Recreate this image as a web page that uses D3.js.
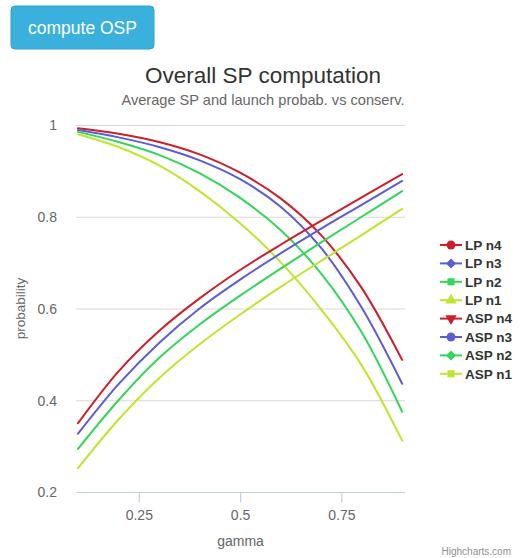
<!DOCTYPE html>
<html>
<head>
<meta charset="utf-8">
<script src="https://cdn.jsdelivr.net/npm/d3@7/dist/d3.min.js"></script>
<style>
  html, body { margin: 0; padding: 0; background: #fff; }
  svg { display: block; font-family: "Liberation Sans", Arial, Helvetica, sans-serif; }
</style>
</head>
<body>
<svg id="chart" width="520" height="558"></svg>
<script>
// ---- data ----
const gamma = [0.1, 0.2, 0.3, 0.4, 0.5, 0.6, 0.7, 0.8, 0.9];
const lpN4  = [0.993, 0.981, 0.963, 0.936, 0.896, 0.840, 0.760, 0.645, 0.488];
const lpN3  = [0.989, 0.973, 0.952, 0.923, 0.882, 0.822, 0.732, 0.602, 0.436];
const lpN2  = [0.985, 0.963, 0.935, 0.895, 0.841, 0.771, 0.676, 0.548, 0.375];
const lpN1  = [0.980, 0.952, 0.912, 0.856, 0.786, 0.701, 0.598, 0.476, 0.312];
const aspN4 = [0.350, 0.463, 0.551, 0.622, 0.684, 0.739, 0.791, 0.842, 0.893];
const aspN3 = [0.327, 0.435, 0.525, 0.600, 0.663, 0.720, 0.774, 0.826, 0.878];
const aspN2 = [0.294, 0.400, 0.492, 0.565, 0.628, 0.687, 0.744, 0.800, 0.856];
const aspN1 = [0.252, 0.358, 0.448, 0.522, 0.587, 0.647, 0.704, 0.760, 0.817];
const seriesNames = ["LP n4", "LP n3", "LP n2", "LP n1", "ASP n4", "ASP n3", "ASP n2", "ASP n1"];
const seriesValues = [lpN4, lpN3, lpN2, lpN1, aspN4, aspN3, aspN2, aspN1];
const yTicks = [0.2, 0.4, 0.6, 0.8, 1];
const xTicks = [0.25, 0.5, 0.75];
const titleText = "Overall SP computation";
const subtitleText = "Average SP and launch probab. vs conserv.";
const buttonText = "compute OSP";

// ---- styles ----
const palette = ["#cc1f2b", "#5c5cd6", "#36d45a", "#bde62e"];
const colorOf = i => palette[i % 4];
const symbolOf = [
  {t: d3.symbolCircle, r: 0},
  {t: d3.symbolSquare, r: 45},
  {t: d3.symbolSquare, r: 0},
  {t: d3.symbolTriangle, r: 0},
  {t: d3.symbolTriangle, r: 180},
  {t: d3.symbolCircle, r: 0},
  {t: d3.symbolSquare, r: 45},
  {t: d3.symbolSquare, r: 0}
];

const svg = d3.select("#chart");
const plot = {left: 76, right: 405, top: 125, bottom: 492};

const x = d3.scaleLinear().domain([0.095, 0.907]).range([plot.left, plot.right]);
const y = d3.scaleLinear().domain([0.2, 1]).range([plot.bottom, plot.top]);

// button
const btn = svg.append("g");
btn.append("rect").attr("x", 11).attr("y", 6).attr("width", 143).attr("height", 43)
  .attr("rx", 4).attr("fill", "#39b1dc").attr("stroke", "#2fa4cf").attr("stroke-width", 1);
btn.append("text").attr("x", 82.5).attr("y", 33.5).attr("text-anchor", "middle")
  .attr("fill", "#fff").attr("font-size", 17.5).text(buttonText);

// titles
svg.append("text").attr("x", 263).attr("y", 83).attr("text-anchor", "middle")
  .attr("fill", "#333").attr("font-size", 22.5).text(titleText);
svg.append("text").attr("x", 263).attr("y", 105).attr("text-anchor", "middle")
  .attr("fill", "#666").attr("font-size", 14.6).text(subtitleText);

// gridlines
svg.append("g").selectAll("line").data(yTicks).join("line")
  .attr("x1", plot.left).attr("x2", plot.right)
  .attr("y1", d => y(d) + 0.5).attr("y2", d => y(d) + 0.5)
  .attr("stroke", "#d8d8d8").attr("stroke-width", 1);

// y axis labels
const yAxis = d3.axisLeft(y).tickValues(yTicks).tickSize(0).tickPadding(0)
  .tickFormat(d => d3.format("~g")(d));
const gy = svg.append("g").attr("transform", `translate(${57},0)`).call(yAxis);
gy.select(".domain").remove();
gy.selectAll("text").attr("fill", "#666").attr("font-size", 14)
  .attr("font-family", "Liberation Sans, Arial, sans-serif").attr("dy", "0.34em");

// x axis
const xAxis = d3.axisBottom(x).tickValues(xTicks).tickSize(10).tickPadding(8)
  .tickFormat(d => d3.format("~g")(d));
const gx = svg.append("g").attr("transform", `translate(0,${plot.bottom + 0.5})`).call(xAxis);
gx.select(".domain").attr("d", `M${plot.left},0H${plot.right}`).attr("stroke", "#c0d0e0").attr("stroke-width", 1.2);
gx.selectAll(".tick line").attr("stroke", "#c0d0e0").attr("stroke-width", 1.2);
gx.selectAll("text").attr("fill", "#666").attr("font-size", 14)
  .attr("font-family", "Liberation Sans, Arial, sans-serif");

// axis titles
svg.append("text").attr("x", (plot.left + plot.right) / 2).attr("y", 546)
  .attr("text-anchor", "middle").attr("fill", "#666").attr("font-size", 14).text("gamma");
svg.append("text").attr("transform", `translate(25,${(plot.top + plot.bottom) / 2}) rotate(-90)`)
  .attr("text-anchor", "middle").attr("fill", "#666").attr("font-size", 13.5).text("probability");

// lines
const line = d3.line().x((d, i) => x(gamma[i])).y(d => y(d)).curve(d3.curveCatmullRom.alpha(0.5));
svg.append("g").selectAll("path").data(seriesValues).join("path")
  .attr("d", d => line(d)).attr("fill", "none")
  .attr("stroke", (d, i) => colorOf(i)).attr("stroke-width", 2)
  .attr("stroke-linejoin", "round").attr("stroke-linecap", "round");

// legend
const legend = svg.append("g");
const items = legend.selectAll("g").data(seriesNames).join("g")
  .attr("transform", (d, i) => `translate(0,${245 + i * 18.4})`);
items.append("line").attr("x1", 440).attr("x2", 462).attr("y1", 0).attr("y2", 0)
  .attr("stroke", (d, i) => colorOf(i)).attr("stroke-width", 2);
items.append("path")
  .attr("d", (d, i) => d3.symbol().type(symbolOf[i].t).size(symbolOf[i].t === d3.symbolTriangle ? 55 : (symbolOf[i].t === d3.symbolSquare ? 50 : 62))())
  .attr("transform", (d, i) => `translate(451,0) rotate(${symbolOf[i].r})`)
  .attr("fill", (d, i) => colorOf(i));
items.append("text").attr("x", 465).attr("y", 0).attr("dy", "0.36em")
  .attr("fill", "#333").attr("font-size", 13.5).attr("font-weight", "bold").text(d => d);

// credits
svg.append("text").attr("x", 511).attr("y", 555).attr("text-anchor", "end")
  .attr("fill", "#909090").attr("font-size", 10).text("Highcharts.com");
</script>
</body>
</html>
